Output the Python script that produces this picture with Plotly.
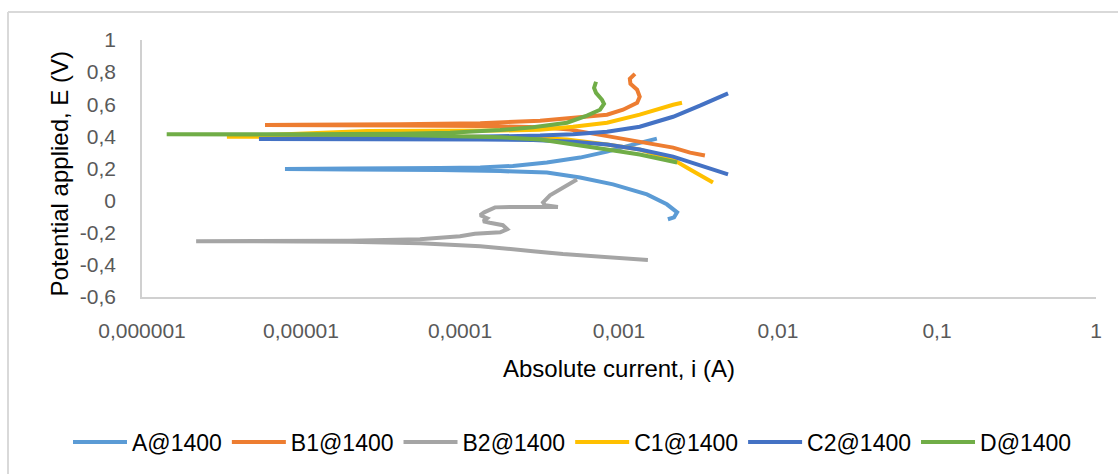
import plotly.graph_objects as go

# Polarisation curves: absolute current (A) vs applied potential (V)
series_names = ["A@1400", "B1@1400", "B2@1400", "C1@1400", "C2@1400", "D@1400"]
series_colors = ["#5B9BD5", "#ED7D31", "#A5A5A5", "#FFC000", "#4472C4", "#70AD47"]

A_current = [2.03e-3, 2.22e-3, 2.32e-3, 2.00e-3, 1.50e-3, 9.17e-4, 5.69e-4, 3.52e-4, 1.79e-4,
             7.48e-5, 2.03e-5, 7.93e-6, 2.03e-5, 7.48e-5, 1.34e-4, 2.15e-4, 3.52e-4, 5.69e-4,
             8.41e-4, 1.22e-3, 1.73e-3]
A_potential = [-0.116, -0.104, -0.073, -0.023, 0.039, 0.101, 0.144, 0.175, 0.184,
               0.191, 0.194, 0.197, 0.200, 0.203, 0.206, 0.216, 0.237, 0.268,
               0.305, 0.349, 0.386]

B1_current = [3.47e-3, 2.80e-3, 2.19e-3, 1.57e-3, 1.01e-3, 7.60e-4, 4.92e-4, 3.19e-4, 1.34e-4,
              4.19e-5, 9.86e-6, 5.94e-6, 9.86e-6, 4.19e-5, 1.34e-4, 3.19e-4, 4.71e-4, 6.29e-4,
              8.41e-4, 1.06e-3, 1.30e-3, 1.35e-3, 1.30e-3, 1.18e-3, 1.17e-3, 1.26e-3]
B1_potential = [0.281, 0.299, 0.330, 0.355, 0.386, 0.411, 0.442, 0.457, 0.464,
                0.467, 0.470, 0.471, 0.473, 0.476, 0.482, 0.498, 0.513, 0.524,
                0.535, 0.566, 0.609, 0.647, 0.690, 0.727, 0.758, 0.789]

B2_current = [1.52e-3, 7.60e-4, 4.44e-4, 2.88e-4, 1.34e-4, 5.60e-5, 2.03e-5, 4.78e-6, 2.19e-6,
              4.78e-6, 2.03e-5, 5.60e-5, 1.00e-4, 1.24e-4, 1.79e-4, 1.98e-4, 1.86e-4, 1.54e-4,
              1.40e-4, 1.48e-4, 1.34e-4, 1.42e-4, 1.66e-4, 2.38e-4, 4.13e-4, 3.43e-4, 3.33e-4,
              3.68e-4, 4.44e-4, 5.44e-4]
B2_potential = [-0.370, -0.352, -0.333, -0.315, -0.284, -0.265, -0.256, -0.253, -0.253,
                -0.252, -0.250, -0.241, -0.222, -0.206, -0.197, -0.178, -0.153, -0.138,
                -0.129, -0.110, -0.091, -0.073, -0.042, -0.039, -0.039, -0.029, -0.011,
                0.033, 0.082, 0.132]

C1_current = [3.90e-3, 3.23e-3, 2.80e-3, 2.19e-3, 1.35e-3, 8.41e-4, 4.71e-4, 2.88e-4, 1.34e-4,
              4.19e-5, 3.42e-6, 2.60e-5, 8.65e-5, 1.79e-4, 3.19e-4, 5.14e-4, 8.41e-4, 1.35e-3,
              2.19e-3, 2.49e-3]
C1_potential = [0.113, 0.163, 0.194, 0.256, 0.318, 0.349, 0.380, 0.392, 0.398,
                0.398, 0.398, 0.433, 0.433, 0.436, 0.442, 0.460, 0.485, 0.535,
                0.597, 0.609]

C2_current = [4.85e-3, 3.23e-3, 2.19e-3, 1.35e-3, 8.41e-4, 5.14e-4, 2.88e-4, 1.34e-4, 4.19e-5,
              9.86e-6, 5.44e-6, 9.86e-6, 4.19e-5, 1.34e-4, 3.19e-4, 5.14e-4, 8.41e-4, 1.35e-3,
              2.19e-3, 3.23e-3, 4.85e-3]
C2_potential = [0.163, 0.219, 0.274, 0.318, 0.349, 0.367, 0.377, 0.380, 0.383,
                0.384, 0.384, 0.386, 0.389, 0.395, 0.405, 0.414, 0.429, 0.460,
                0.522, 0.591, 0.668]

D_current = [2.32e-3, 1.35e-3, 8.41e-4, 4.71e-4, 3.19e-4, 1.79e-4, 8.65e-5, 4.19e-5, 9.86e-6,
             1.43e-6, 9.86e-6, 4.19e-5, 8.65e-5, 1.79e-4, 2.88e-4, 4.71e-4, 6.29e-4, 7.60e-4,
             8.05e-4, 7.82e-4, 7.17e-4, 6.97e-4, 7.06e-4, 7.17e-4]
D_potential = [0.237, 0.287, 0.318, 0.355, 0.380, 0.395, 0.405, 0.409, 0.411,
               0.413, 0.414, 0.417, 0.423, 0.439, 0.457, 0.485, 0.529, 0.566,
               0.603, 0.628, 0.671, 0.702, 0.727, 0.740]

x_tickvals = [1e-6, 1e-5, 1e-4, 1e-3, 1e-2, 1e-1, 1]
x_ticktext = ["0,000001", "0,00001", "0,0001", "0,001", "0,01", "0,1", "1"]
y_tickvals = [-0.6, -0.4, -0.2, 0, 0.2, 0.4, 0.6, 0.8, 1]
y_ticktext = ["-0,6", "-0,4", "-0,2", "0", "0,2", "0,4", "0,6", "0,8", "1"]

currents = [A_current, B1_current, B2_current, C1_current, C2_current, D_current]
potentials = [A_potential, B1_potential, B2_potential, C1_potential, C2_potential, D_potential]

FONT = "Liberation Sans, Arial, sans-serif"
W, H = 1118, 474
ML, MR, MT, MB = 142, 22, 40, 176
PW, PH = W - ML - MR, H - MT - MB


def px_to_paper_x(px):
    return (px - ML) / PW


def px_to_paper_y(py):
    return (H - MB - py) / PH


fig = go.Figure()
for name, color, xs, ys in zip(series_names, series_colors, currents, potentials):
    fig.add_trace(go.Scatter(
        x=xs, y=ys, name=name, mode="lines",
        line=dict(color=color, width=4),
    ))

fig.update_layout(
    width=W, height=H,
    margin=dict(l=ML, r=MR, t=MT, b=MB, pad=0),
    paper_bgcolor="white", plot_bgcolor="white",
    font=dict(family=FONT, color="#595959"),
    showlegend=True,
    legend=dict(
        orientation="h",
        x=px_to_paper_x(68), xanchor="left",
        y=px_to_paper_y(442), yanchor="middle",
        font=dict(family=FONT, size=23, color="black"),
        itemwidth=54,
        bgcolor="rgba(0,0,0,0)",
    ),
    xaxis=dict(
        type="log", range=[-6, 0],
        tickvals=x_tickvals, ticktext=x_ticktext,
        showgrid=False, zeroline=False,
        showline=True, linecolor="#d0d0d0", linewidth=1.5,
        ticks="", ticklabelstandoff=14,
        tickfont=dict(family=FONT, size=21, color="#595959"),
    ),
    yaxis=dict(
        range=[-0.6, 1],
        tickvals=y_tickvals, ticktext=y_ticktext,
        showgrid=False, zeroline=False,
        showline=True, linecolor="#d0d0d0", linewidth=1.5,
        ticks="", ticklabelstandoff=20,
        tickfont=dict(family=FONT, size=21, color="#595959"),
    ),
    annotations=[
        dict(text="Absolute current, i (A)", xref="paper", yref="paper",
             x=px_to_paper_x(619), y=px_to_paper_y(370),
             xanchor="center", yanchor="middle", showarrow=False,
             font=dict(family=FONT, size=24, color="black")),
        dict(text="Potential applied, E (V)", xref="paper", yref="paper",
             x=px_to_paper_x(59), y=px_to_paper_y(175), textangle=-90,
             xanchor="center", yanchor="middle", showarrow=False,
             font=dict(family=FONT, size=24, color="black")),
    ],
    shapes=[
        # chart-area frame (top and left edges)
        dict(type="line", xref="paper", yref="paper",
             x0=px_to_paper_x(8), y0=px_to_paper_y(12),
             x1=px_to_paper_x(1130), y1=px_to_paper_y(12),
             line=dict(color="#d9d9d9", width=2)),
        dict(type="line", xref="paper", yref="paper",
             x0=px_to_paper_x(8), y0=px_to_paper_y(12),
             x1=px_to_paper_x(8), y1=px_to_paper_y(490),
             line=dict(color="#d9d9d9", width=2)),
    ],
)

fig.write_html("out.html")
